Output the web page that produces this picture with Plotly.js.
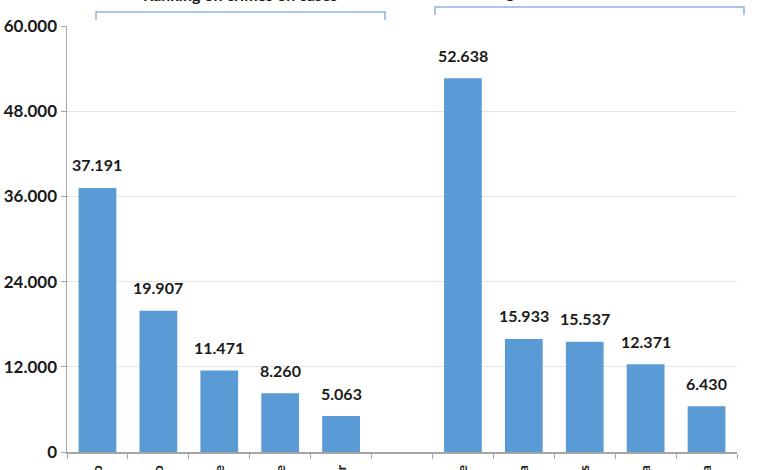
<!DOCTYPE html>
<html>
<head>
<meta charset="utf-8">
<script src="https://cdn.plot.ly/plotly-3.0.1.min.js"></script>
<style>
  html, body { margin: 0; padding: 0; background: #fff; }
  #chart { width: 780px; height: 470px; }
</style>
</head>
<body>
<div id="chart"></div>
<script>
// === Data === //
var casesCities = ['São Paulo', 'Rio de Janeiro', 'Belo Horizonte', 'Porto Alegre', 'Salvador'];
var casesValues = [37191, 19907, 11471, 8260, 5063];
var popCities = ['Recife', 'Fortaleza', 'Manaus', 'Curitiba', 'Brasília'];
var popValues = [52638, 15933, 15537, 12371, 6430];
var groupTitles = ['Ranking on crimes on cases', 'Ranking on crimes on total cases'];

// one empty slot between the two groups
var categories = casesCities.concat([' '], popCities);
var values = casesValues.concat([null], popValues);

var bracketColor = '#8db3e2';
var axisColor = '#a6a6a6';
var fontFam = 'Lato, Open Sans, sans-serif';

var trace = {
    x: categories,
    y: values,
    type: 'bar',
    marker: { color: '#5b9bd5' },
    hoverinfo: 'x+y'
};

// pixel -> paper helpers (margins below)
var mL = 67, mR = 43, mT = 26, mB = 18;
var plotW = 780 - mL - mR, plotH = 470 - mT - mB;
function px(x){ return (x - mL) / plotW; }
function py(y){ return 1 + (mT - y) / plotH; }

// brackets over each group
function bracket(x0, x1, yTop, yLeg){
    return {
        type: 'path', xref: 'paper', yref: 'paper',
        path: 'M ' + px(x0) + ',' + py(yLeg) + ' L ' + px(x0) + ',' + py(yTop) +
              ' L ' + px(x1) + ',' + py(yTop) + ' L ' + px(x1) + ',' + py(yLeg),
        line: { color: bracketColor, width: 1.5 }
    };
}

// value labels above bars
var valueLabels = [];
categories.forEach(function(c, i){
    if(values[i] === null){ return; }
    valueLabels.push({
        x: c, y: values[i], xref: 'x', yref: 'y',
        text: values[i].toLocaleString('de-DE'),
        showarrow: false, yanchor: 'middle', yshift: 23,
        font: { family: fontFam, size: 16, color: '#1a1a1a', weight: 'bold' }
    });
});

var titles = [
    {
        text: groupTitles[0], xref: 'paper', yref: 'paper', x: px(240), y: py(6),
        xanchor: 'center', yanchor: 'bottom', showarrow: false,
        font: { family: fontFam, size: 16, weight: 'bold', color: '#1a1a1a' }
    },
    {
        text: groupTitles[1], xref: 'paper', yref: 'paper', x: px(455), y: py(3),
        xanchor: 'left', yanchor: 'bottom', showarrow: false,
        font: { family: fontFam, size: 16, weight: 'bold', color: '#1a1a1a' }
    }
];

var layout = {
    width: 780,
    height: 470,
    margin: { l: mL, r: mR, t: mT, b: mB },
    paper_bgcolor: '#fff',
    plot_bgcolor: '#fff',
    separators: ',.',
    showlegend: false,
    bargap: 0.38,
    font: { family: fontFam, color: '#1a1a1a' },
    xaxis: {
        type: 'category',
        showline: true,
        linecolor: axisColor,
        linewidth: 1.5,
        ticks: 'outside',
        tickson: 'boundaries',
        ticklen: 5,
        tickcolor: axisColor,
        tickangle: -90,
        ticklabelstandoff: 6,
        tickfont: { size: 14, weight: 'bold' },
        showgrid: false,
        automargin: false,
        fixedrange: true
    },
    yaxis: {
        range: [0, 60000],
        dtick: 12000,
        tickformat: ',.0f',
        showline: true,
        linecolor: axisColor,
        linewidth: 1.5,
        ticks: 'outside',
        ticklen: 5,
        tickcolor: axisColor,
        showgrid: true,
        gridcolor: '#e4e4e4',
        zeroline: false,
        tickfont: { size: 17, weight: 'bold' },
        automargin: false,
        fixedrange: true
    },
    shapes: [
        bracket(96, 385, 12, 20),
        bracket(435, 744, 7, 15)
    ],
    annotations: valueLabels.concat(titles)
};

Plotly.newPlot('chart', [trace], layout, { displayModeBar: false, staticPlot: true });
</script>
</body>
</html>
